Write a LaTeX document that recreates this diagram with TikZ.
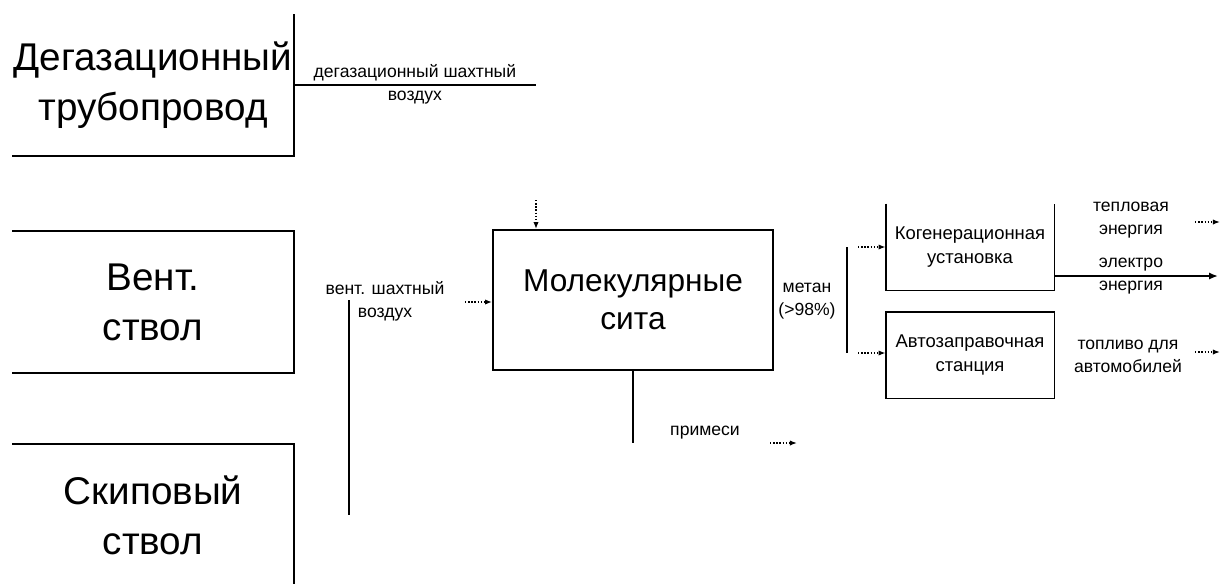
\documentclass[tikz,border=0pt]{standalone}
\usepackage{fontspec}
\setmainfont{Liberation Sans}
\usepackage{tikz}
\usetikzlibrary{arrows.meta, positioning, calc}

\tikzset{
  srcbox/.style={minimum width=280*0.02cm, minimum height=140*0.02cm, inner sep=0pt,
    align=center, font=\fontsize{22}{28.5}\selectfont},
  procbox/.style={minimum width=280*0.02cm, minimum height=140*0.02cm, inner sep=0pt,
    align=center, font=\fontsize{18}{21.5}\selectfont, draw, line width=1pt},
  usebox/.style={minimum width=167*0.02cm, minimum height=85*0.02cm, inner sep=0pt,
    align=center, font=\fontsize{10.5}{13.5}\selectfont},
  flowlbl/.style={align=center, inner sep=0pt, font=\fontsize{10}{13}\selectfont},
  stub/.style={densely dotted, line width=0.8pt, -{Latex[length=4pt,width=3pt]}},
}

\begin{document}
\begin{tikzpicture}[x=0.02cm, y=-0.02cm, line width=1pt]

    \useasboundingbox (0,0) rectangle (1220,583);

    % sources
    \node[srcbox] (degas) at (153,85)  {Дегазационный\\трубопровод};
    \node[srcbox] (vent)  at (153,302) {Вент.\\ствол};
    \node[srcbox] (skip)  at (153,515) {Скиповый\\ствол};

    \draw (degas.north east) -- (degas.south east) -- (degas.south west);
    \draw (vent.north west) -- (vent.north east) -- (vent.south east) -- (vent.south west);
    \draw (skip.north west) -- (skip.north east) -- (skip.south east);

    % sieve
    \node[procbox] (sieve) at (633,300) {Молекулярные\\сита};

    % consumers
    \node[usebox] (cogen) at (970,247) {Когенерационная\\установка};
    \node[usebox] (fuel)  at (970,355) {Автозаправочная\\станция};
    \draw (cogen.north west) -- (cogen.south west) -- (cogen.south east) -- (cogen.north east);
    \draw (fuel.north west) rectangle (fuel.south east);

    % degassing air
    \coordinate (dgEnd) at (536,85);
    \coordinate (dgIn)  at (536,200);
    \draw (degas.east) -- (dgEnd);
    \node[flowlbl, above=2pt of $(degas.east)!0.5!(dgEnd)$] (dgLbl) {дегазационный шахтный};
    \node[flowlbl, below=3pt of $(degas.east)!0.5!(dgEnd)$] (dgLbl2) {воздух};
    \draw[stub] (dgIn) -- (dgIn |- sieve.north);

    % ventilation air
    \coordinate (vTop) at (349,300);
    \coordinate (vBot) at (349,515);
    \coordinate (vIn)  at (465,302);
    \draw (vTop) -- (vBot);
    \node[flowlbl] (vLbl) at (385,301) {вент. шахтный\\воздух};
    \draw[stub] (vIn) -- (vIn -| sieve.west);

    % impurities
    \coordinate (impEnd) at (633,443);
    \coordinate (impA) at (770,443);
    \coordinate (impB) at (797,443);
    \draw (sieve.south) -- (impEnd);
    \node[flowlbl] (impLbl) at (705,433) {примеси};
    \draw[stub] (impA) -- (impB);

    % methane
    \coordinate (chTop) at (847,247);
    \coordinate (chBot) at (847,353);
    \draw (chTop) -- (chBot);
    \node[flowlbl] (chLbl) at (807,301) {метан\\(>98\%)};
    \draw[stub] ($(chTop)+(11,0)$) -- (chTop -| cogen.west);
    \draw[stub] ($(chBot)+(11,0)$) -- (chBot -| fuel.west);

    % outputs
    \coordinate (elOut) at (1218,276);
    \draw[-{Latex[length=5pt,width=4pt]}] (elOut -| cogen.east) -- (elOut);
    \node[flowlbl] (heatLbl) at (1131,220) {тепловая\\энергия};
    \node[flowlbl] (elLbl)   at (1131,276) {электро\\энергия};
    \node[flowlbl] (fuelLbl) at (1128,356) {топливо для\\автомобилей};
    \draw[stub] (1195,222) -- (1220,222);
    \draw[stub] (1195,352) -- (1220,352);

\end{tikzpicture}
\end{document}
